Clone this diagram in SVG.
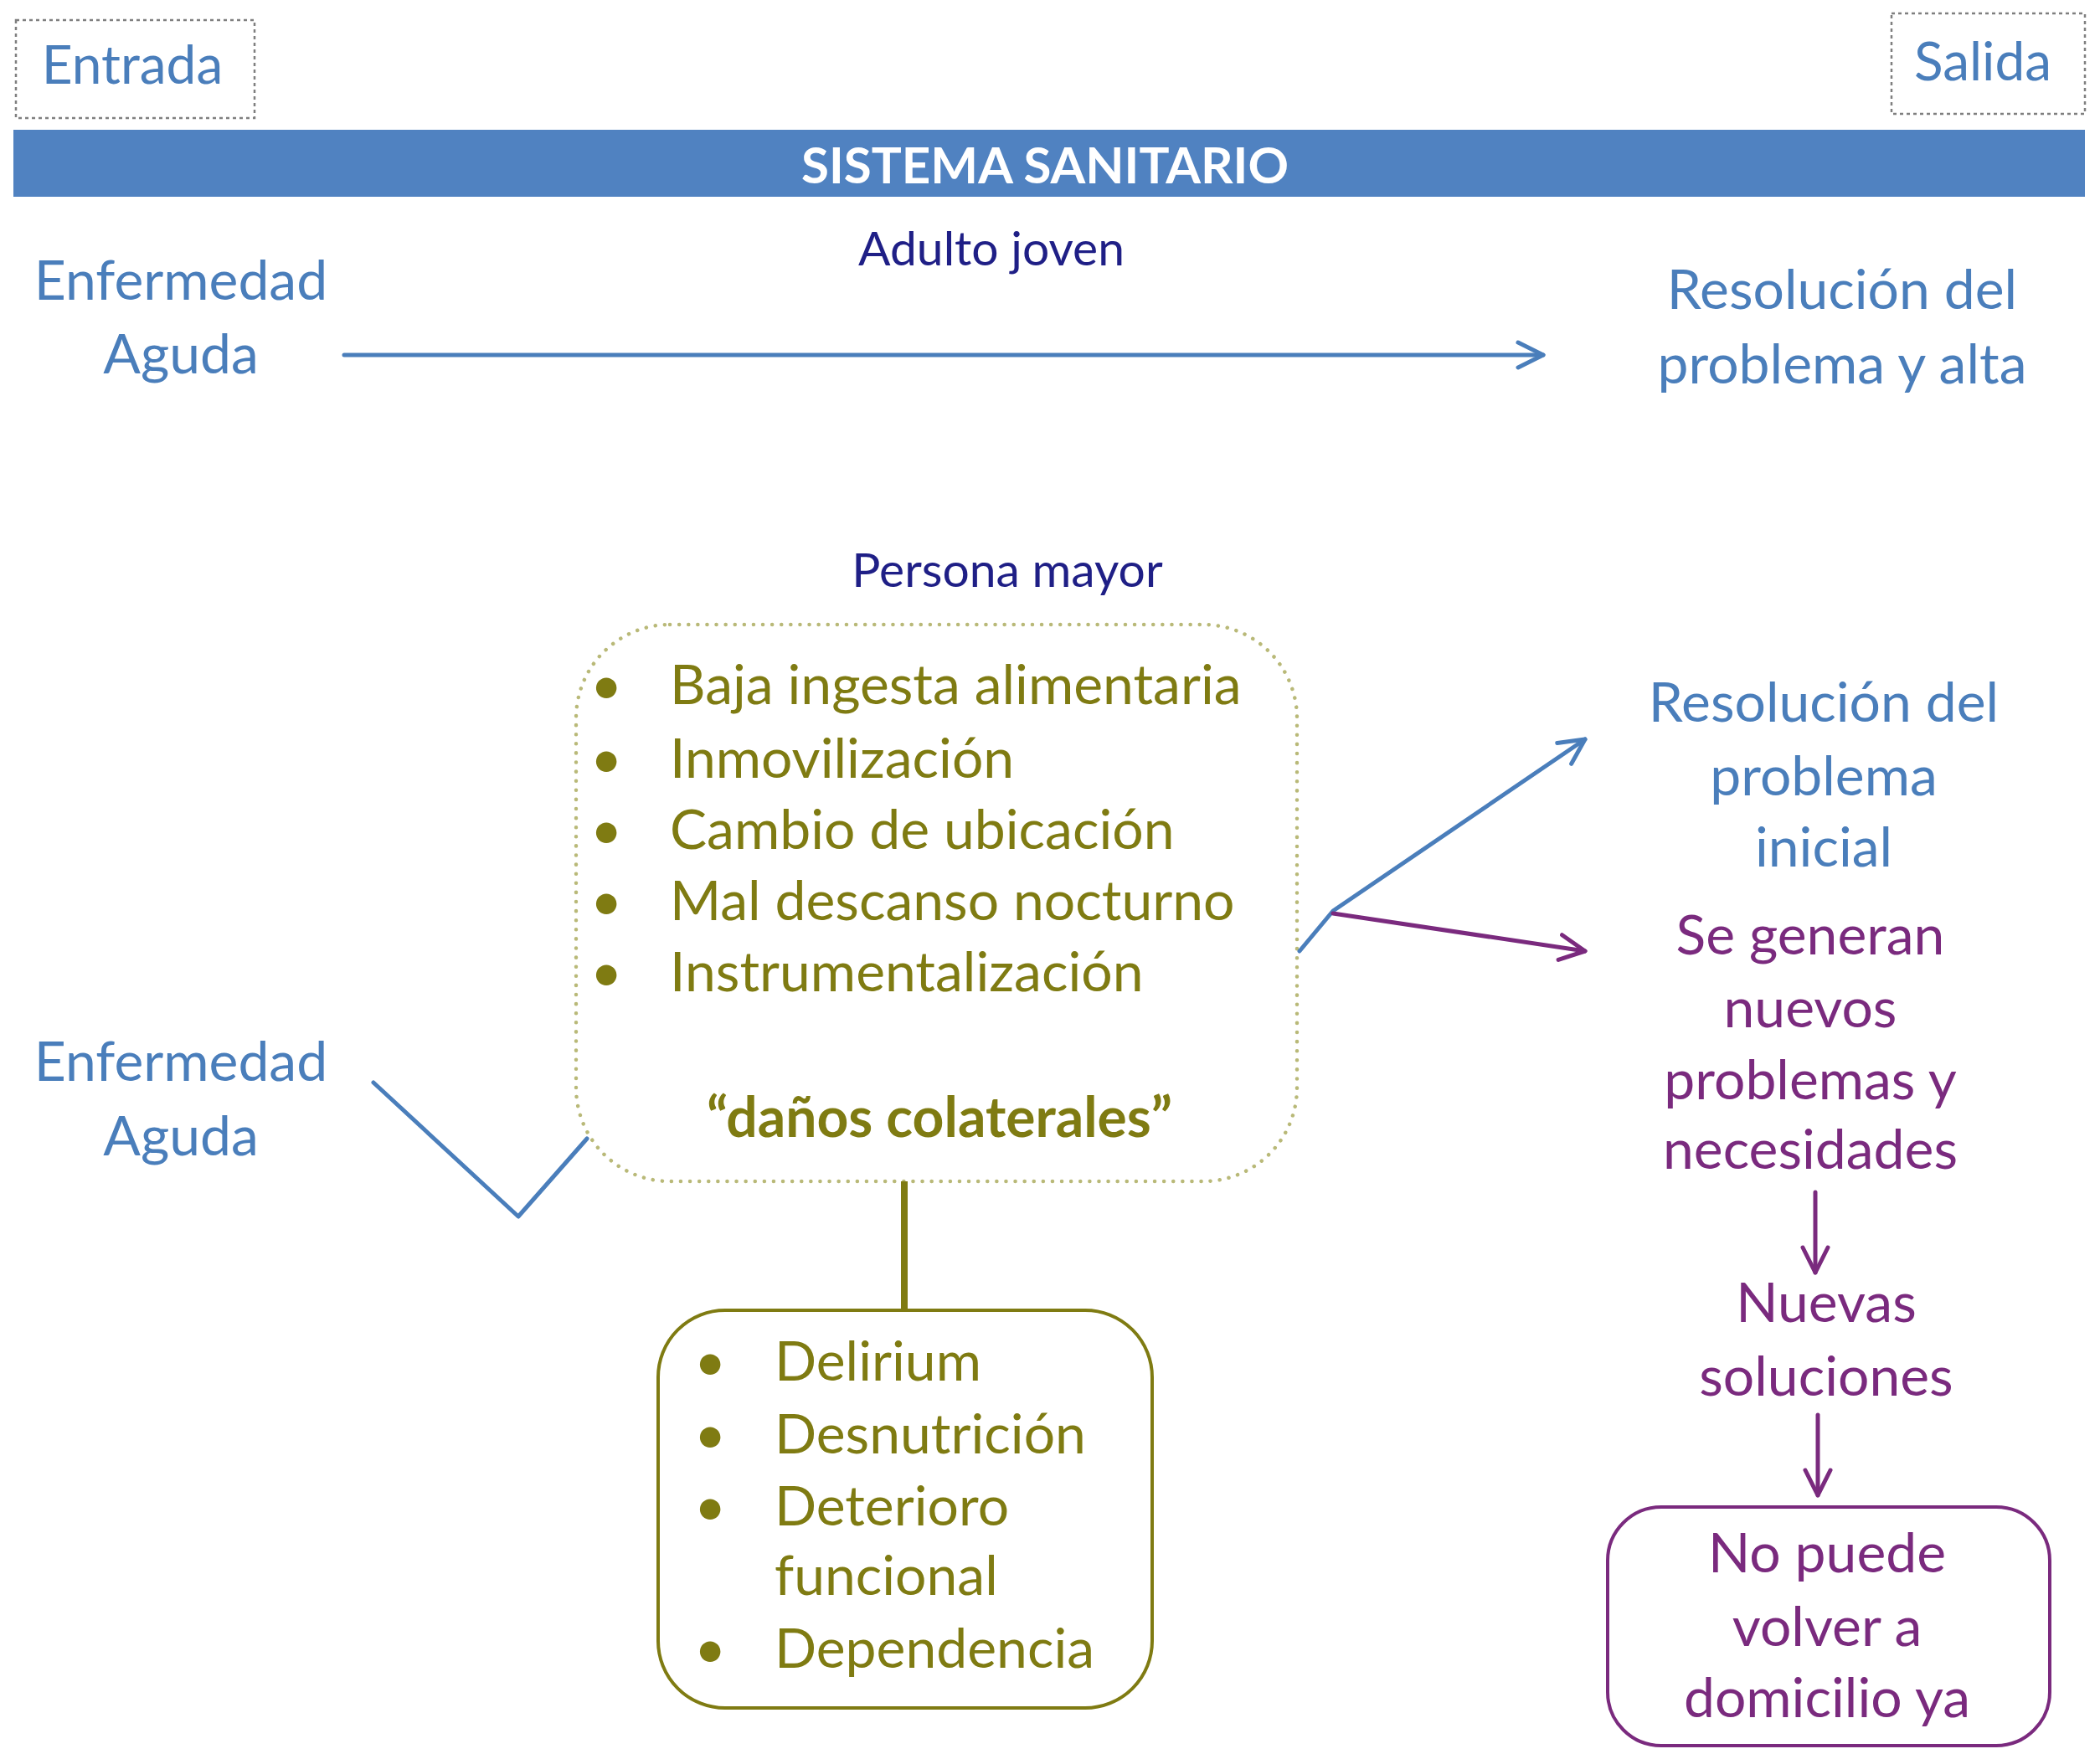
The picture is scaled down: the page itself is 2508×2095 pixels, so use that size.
<svg xmlns="http://www.w3.org/2000/svg" width="2508" height="2095" viewBox="0 0 2508 2095">
<style>
text{font-family:Lato,"Open Sans","Liberation Sans",sans-serif}
.blue{fill:#4a7ebb;font-size:66px}
.navy{fill:#1f1f86;font-size:57px}
.olive{fill:#7f7b12;font-size:66px}
.purple{fill:#7a2a7e;font-size:66px}
.io{fill:#4a7ebb;font-size:64px}
.mid{text-anchor:middle}
.dash{fill:none;stroke:#7f7f7f;stroke-width:2.5;stroke-dasharray:4 4}
</style>
<defs>
<marker id="ahB" markerUnits="userSpaceOnUse" markerWidth="40" markerHeight="40" refX="34" refY="18" orient="auto" viewBox="0 0 40 36">
<path d="M4,3 L34,18 L4,33" fill="none" stroke="#4a7ebb" stroke-width="5" stroke-linecap="round" stroke-linejoin="round"/>
</marker>
<marker id="ahP" markerUnits="userSpaceOnUse" markerWidth="40" markerHeight="40" refX="34" refY="18" orient="auto" viewBox="0 0 40 36">
<path d="M4,3 L34,18 L4,33" fill="none" stroke="#7a2a7e" stroke-width="5" stroke-linecap="round" stroke-linejoin="round"/>
</marker>
</defs>
<rect width="2508" height="2095" fill="#ffffff"/>

<g id="entrada">
<rect class="dash" x="19" y="24" width="285" height="117"/>
<text class="io mid" x="158" y="100">Entrada</text>
</g>
<g id="salida">
<rect class="dash" x="2259" y="16" width="231" height="120"/>
<text class="io mid" x="2368" y="96">Salida</text>
</g>
<g id="sistema">
<rect x="16" y="155" width="2474" height="80" fill="#5082c1"/>
<text x="1248" y="219" class="mid" fill="#ffffff" font-size="60" font-weight="bold" textLength="582" lengthAdjust="spacingAndGlyphs">SISTEMA SANITARIO</text>
</g>

<g id="adulto-joven"><text class="navy mid" x="1184" y="317">Adulto joven</text></g>
<g id="enfermedad1">
<text class="blue mid" x="216" y="358">Enfermedad</text>
<text class="blue mid" x="216" y="446">Aguda</text>
</g>
<g id="resolucion1">
<text class="blue mid" x="2200" y="369">Resolución del</text>
<text class="blue mid" x="2200" y="458">problema y alta</text>
</g>

<g id="persona-mayor"><text class="navy mid" x="1203" y="701">Persona mayor</text></g>

<g id="factores">
<rect x="688" y="746" width="861" height="665" rx="112" ry="112" fill="none" stroke="#b9b978" stroke-width="4.5" stroke-dasharray="0.1 11" stroke-linecap="round"/>
<text class="olive" x="705" y="841">•</text><text class="olive" x="800" y="841">Baja ingesta alimentaria</text>
<text class="olive" x="705" y="929">•</text><text class="olive" x="800" y="929">Inmovilización</text>
<text class="olive" x="705" y="1014">•</text><text class="olive" x="800" y="1014">Cambio de ubicación</text>
<text class="olive" x="705" y="1099">•</text><text class="olive" x="800" y="1099">Mal descanso nocturno</text>
<text class="olive" x="705" y="1184">•</text><text class="olive" x="800" y="1184">Instrumentalización</text>
<text class="olive mid" x="1122" y="1358" font-weight="bold">“daños colaterales”</text>
</g>

<g id="consecuencias">
<rect x="786" y="1565" width="590" height="475" rx="80" ry="80" fill="none" stroke="#7f7b12" stroke-width="4"/>
<text class="olive" x="829" y="1649">•</text><text class="olive" x="925" y="1649">Delirium</text>
<text class="olive" x="829" y="1736">•</text><text class="olive" x="925" y="1736">Desnutrición</text>
<text class="olive" x="829" y="1822">•</text><text class="olive" x="925" y="1822">Deterioro</text>
<text class="olive" x="925" y="1905">funcional</text>
<text class="olive" x="829" y="1992">•</text><text class="olive" x="925" y="1992">Dependencia</text>
</g>

<g id="enfermedad2">
<text class="blue mid" x="216" y="1291">Enfermedad</text>
<text class="blue mid" x="216" y="1380">Aguda</text>
</g>

<g id="resolucion2">
<text class="blue mid" x="2178" y="862">Resolución del</text>
<text class="blue mid" x="2178" y="950">problema</text>
<text class="blue mid" x="2178" y="1035">inicial</text>
</g>

<g id="nuevos-problemas">
<text class="purple mid" x="2162" y="1140">Se generan</text>
<text class="purple mid" x="2162" y="1227">nuevos</text>
<text class="purple mid" x="2162" y="1313">problemas y</text>
<text class="purple mid" x="2162" y="1396">necesidades</text>
</g>

<g id="nuevas-soluciones">
<text class="purple mid" x="2181" y="1579">Nuevas</text>
<text class="purple mid" x="2181" y="1667">soluciones</text>
</g>

<g id="domicilio">
<rect x="1920" y="1800" width="528" height="285" rx="64" ry="64" fill="none" stroke="#7a2a7e" stroke-width="4"/>
<text class="purple mid" x="2182" y="1878">No puede</text>
<text class="purple mid" x="2182" y="1966">volver a</text>
<text class="purple mid" x="2182" y="2051">domicilio ya</text>
</g>

<g id="connectors" fill="none" stroke-linecap="round" stroke-linejoin="round">
<line x1="411" y1="424" x2="1843" y2="424" stroke="#4a7ebb" stroke-width="5" marker-end="url(#ahB)"/>
<polyline points="446,1293 619,1453 701,1360" stroke="#4a7ebb" stroke-width="5"/>
<polyline points="1552,1136 1592,1088 1893,883" stroke="#4a7ebb" stroke-width="5" marker-end="url(#ahB)"/>
<line x1="1592" y1="1091" x2="1893" y2="1136" stroke="#7a2a7e" stroke-width="5" marker-end="url(#ahP)"/>
<line x1="1080" y1="1411" x2="1080" y2="1565" stroke="#7f7b12" stroke-width="8" stroke-linecap="butt"/>
<line x1="2168" y1="1424" x2="2168" y2="1520" stroke="#7a2a7e" stroke-width="5" marker-end="url(#ahP)"/>
<line x1="2171" y1="1690" x2="2171" y2="1786" stroke="#7a2a7e" stroke-width="5" marker-end="url(#ahP)"/>
</g>
</svg>
